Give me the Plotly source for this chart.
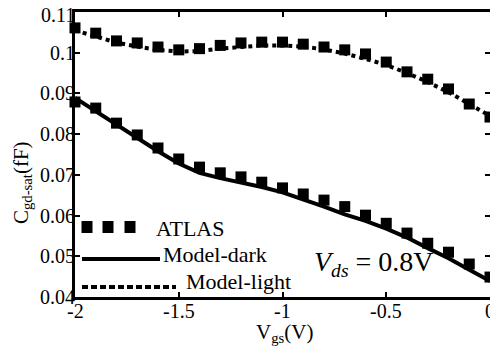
import plotly.graph_objects as go

vgs = [-2.0, -1.9, -1.8, -1.7, -1.6, -1.5, -1.4, -1.3, -1.2, -1.1, -1.0,
       -0.9, -0.8, -0.7, -0.6, -0.5, -0.4, -0.3, -0.2, -0.1, 0.0]

atlas_light = [0.1061, 0.1048, 0.1029, 0.1024, 0.1014, 0.1007, 0.1010, 0.1018, 0.1024, 0.1026, 0.1026,
               0.1021, 0.1014, 0.1007, 0.0997, 0.0977, 0.0953, 0.0935, 0.0911, 0.0874, 0.0842]
model_light = [0.1055, 0.1040, 0.1025, 0.1015, 0.1007, 0.1003, 0.1004, 0.1010, 0.1015, 0.1018, 0.1018,
               0.1015, 0.1008, 0.0998, 0.0985, 0.0970, 0.0950, 0.0928, 0.0903, 0.0875, 0.0845]

atlas_dark = [0.0879, 0.0864, 0.0827, 0.0798, 0.0766, 0.0739, 0.0719, 0.0705, 0.0695, 0.0682, 0.0668,
              0.0653, 0.0638, 0.0622, 0.0601, 0.0581, 0.0557, 0.0532, 0.0510, 0.0481, 0.0449]
model_dark = [0.0889, 0.0856, 0.0822, 0.0790, 0.0758, 0.0728, 0.0705, 0.0692, 0.0682, 0.0670, 0.0657,
              0.0640, 0.0622, 0.0603, 0.0587, 0.0568, 0.0546, 0.0520, 0.0495, 0.0467, 0.0439]

x_ticks = [-2, -1.5, -1, -0.5, 0]
x_tick_labels = ["-2", "-1.5", "-1", "-0.5", "0"]
y_ticks = [0.04, 0.05, 0.06, 0.07, 0.08, 0.09, 0.1, 0.11]
y_tick_labels = ["0.04", "0.05", "0.06", "0.07", "0.08", "0.09", "0.1", "0.11"]

FONT = "Liberation Serif, Times New Roman, Times, serif"

# The page body has an 8px default margin, so the figure is drawn 8px in from the
# top-left corner of the window; size and margins compensate for that.
OFF = 8
W, H = 498 - OFF, 348 - OFF
PL, PT, PR, PB = 75, 12, 490, 297          # plot area in window pixels
L, T = PL - OFF, PT - OFF
R, B = W - (PR - OFF), H - (PB - OFF)
PW, PH = PR - PL, PB - PT


def px(p):
    return (p - PL) / PW


def py(q):
    return (PB - q) / PH


fig = go.Figure()
fig.add_trace(go.Scatter(x=vgs, y=model_dark, mode="lines",
                         line=dict(color="black", width=4), cliponaxis=False, name="Model-dark"))
fig.add_trace(go.Scatter(x=vgs, y=model_light, mode="lines",
                         line=dict(color="black", width=4, dash="4px,4px"), cliponaxis=False, name="Model-light"))
for ys in (atlas_light, atlas_dark):
    fig.add_trace(go.Scatter(x=vgs, y=ys, mode="markers",
                             marker=dict(symbol="square", size=11, color="black"),
                             cliponaxis=False, name="ATLAS"))

axis_common = dict(showline=True, linewidth=3, linecolor="black", mirror="ticks",
                   ticks="inside", ticklen=5, tickwidth=1.5, tickcolor="black",
                   showgrid=False, zeroline=False, automargin=False,
                   showticklabels=False)

fig.update_xaxes(range=[-2, 0], tickvals=x_ticks, **axis_common)
fig.update_yaxes(range=[0.04, 0.11], tickvals=y_ticks, **axis_common)

shapes = []
# legend samples (decorative)
for cx in (87, 108, 130):
    shapes.append(dict(type="rect", xref="paper", yref="paper",
                       xsizemode="pixel", ysizemode="pixel",
                       xanchor=px(cx), yanchor=py(227),
                       x0=-5.5, x1=5.5, y0=-6, y1=6,
                       fillcolor="black", line=dict(width=0)))
shapes.append(dict(type="line", xref="paper", yref="paper",
                   x0=px(82), x1=px(160), y0=py(259), y1=py(259),
                   line=dict(color="black", width=4)))
shapes.append(dict(type="line", xref="paper", yref="paper",
                   x0=px(82), x1=px(176), y0=py(287), y1=py(287),
                   line=dict(color="black", width=4, dash="6px,3px")))

annotations = []
# tick labels placed through the axes' own scales
for v, t in zip(x_ticks, x_tick_labels):
    annotations.append(dict(text=t, x=v, xref="x", y=0, yref="paper",
                            xanchor="center", yanchor="top", yshift=-1, showarrow=False,
                            font=dict(family=FONT, size=20, color="black")))
for i, (v, t) in enumerate(zip(y_ticks, y_tick_labels)):
    annotations.append(dict(text=t, x=0, xref="paper", y=v, yref="y",
                            xanchor="right", yanchor="middle", xshift=2,
                            yshift=-3 if i == len(y_ticks) - 1 else 0, showarrow=False,
                            font=dict(family=FONT, size=20, color="black")))

annotations += [
    dict(text="ATLAS", x=px(154), y=py(228), xref="paper", yref="paper",
         xanchor="left", yanchor="middle", showarrow=False,
         font=dict(family=FONT, size=22, color="black")),
    dict(text="Model-dark", x=px(161), y=py(254), xref="paper", yref="paper",
         xanchor="left", yanchor="middle", showarrow=False,
         font=dict(family=FONT, size=22, color="black")),
    dict(text="Model-light", x=px(184), y=py(281), xref="paper", yref="paper",
         xanchor="left", yanchor="middle", showarrow=False,
         font=dict(family=FONT, size=22, color="black")),
    dict(text="<i>V<sub>ds</sub></i> = 0.8V", x=px(312), y=py(263), xref="paper", yref="paper",
         xanchor="left", yanchor="middle", showarrow=False,
         font=dict(family=FONT, size=28, color="black")),
    dict(text="V<sub>gs</sub>(V)", x=px(284), y=py(333), xref="paper", yref="paper",
         xanchor="center", yanchor="middle", showarrow=False,
         font=dict(family=FONT, size=21, color="black")),
    dict(text="C<sub>gd-sat</sub>(fF)", x=px(22), y=py(183), xref="paper", yref="paper",
         xanchor="center", yanchor="middle", showarrow=False, textangle=-90,
         font=dict(family=FONT, size=21, color="black")),
]

fig.update_layout(width=W, height=H, margin=dict(l=L, r=R, t=T, b=B, pad=0, autoexpand=False),
                  plot_bgcolor="white", paper_bgcolor="white", showlegend=False,
                  shapes=shapes, annotations=annotations)

fig.write_html("out.html")
